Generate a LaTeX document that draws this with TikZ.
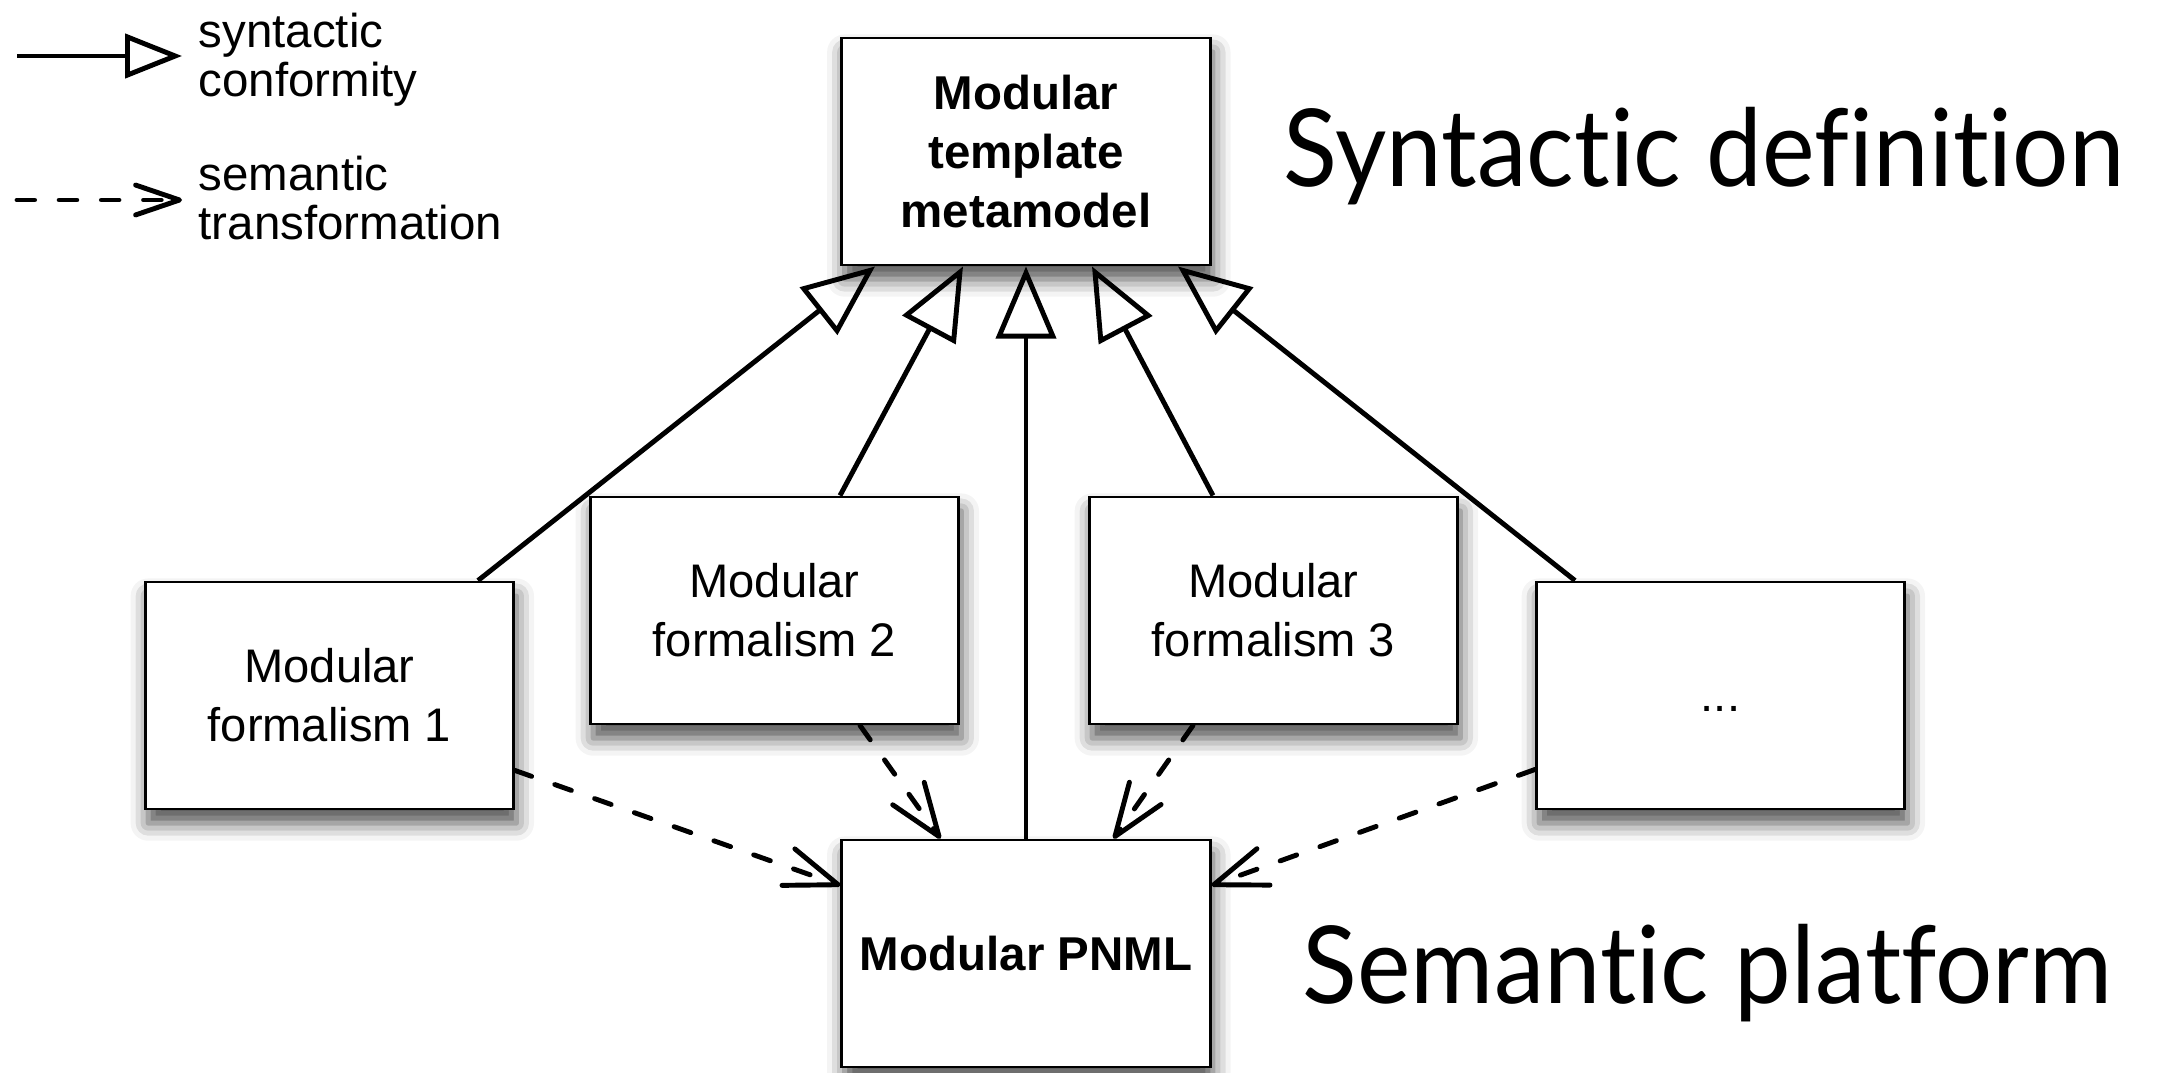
\documentclass[tikz,border=0pt]{standalone}
\usepackage{fontspec}
\setmainfont{Liberation Sans}
\newfontfamily\bigfont[Ligatures={NoCommon}]{Lato}
\usetikzlibrary{arrows.meta,calc,shadows.blur}

\begin{document}
\begin{tikzpicture}[x=0.01cm,y=-0.01cm,
  box/.style={draw=black, line width=0.8pt, fill=white, minimum width=3.68cm, minimum height=2.27cm,
    align=center, inner sep=0pt, font=\fontsize{13.4}{16.7}\selectfont,
    blur shadow={shadow xshift=0.8pt, shadow yshift=-4pt, shadow blur radius=5pt, shadow opacity=70}},
  boldbox/.style={box, font=\fontsize{13.5}{16.7}\selectfont\bfseries},
  conform/.style={line width=1.4pt, -{Triangle[open, length=20.5pt, width=17pt]}},
  transf/.style={line width=1.4pt, line cap=round, dash pattern=on 5pt off 7pt, -{Straight Barb[round, length=15pt, width=11pt]}},
  conformkey/.style={line width=1.4pt, -{Triangle[open, length=16.2pt, width=12.5pt]}},
  transfkey/.style={line width=1.4pt, line cap=round, dash pattern=on 5pt off 7pt, -{Straight Barb[round, length=12.5pt, width=8.5pt]}},
  keytext/.style={anchor=base west, inner sep=0pt, align=left, font=\fontsize{13.5}{14.2}\selectfont},
  bigtext/.style={anchor=base west, inner sep=0pt, font=\bigfont\fontsize{30.6}{36}\selectfont}
]
\useasboundingbox (0,0) rectangle (2166,1073);

% boxes
\node[boldbox] (top)  at (1026,151.5) {Modular\\template\\metamodel};
\node[box]     (f1)   at (329.5,695.5) {Modular\\formalism 1};
\node[box]     (f2)   at (774.5,610.5) {Modular\\formalism 2};
\node[box]     (f3)   at (1273.5,610.5) {Modular\\formalism 3};
\node[box]     (dots) at (1720.5,695.5) {\vphantom{M}...};
\node[boldbox] (pnml) at (1026,953.5) {Modular PNML};

% syntactic conformity
\draw[conform] ($(f1.north east)+(-37,0)$) -- ($(top.south)+(-151,0)$);
\draw[conform] ($(f2.north east)+(-120,0)$) -- ($(top.south)+(-63,0)$);
\draw[conform] (pnml.north) -- (top.south);
\draw[conform] ($(f3.north west)+(125,0)$) -- ($(top.south)+(66,0)$);
\draw[conform] ($(dots.north west)+(40,0)$) -- ($(top.south)+(152,0)$);

% semantic transformation
\draw[transf] ($(f1.south east)+(0,-40)$) -- ($(pnml.north west)+(0,47)$);
\draw[transf] ($(f2.south east)+(-100,0)$) -- ($(pnml.north west)+(100,0)$);
\draw[transf] ($(f3.south west)+(105,0)$) -- ($(pnml.north east)+(-98,0)$);
\draw[transf] ($(dots.south west)+(0,-41)$) -- ($(pnml.north east)+(0,47)$);

% legend
\coordinate (k1a) at (17,56);
\coordinate (k1b) at (182,56);
\coordinate (k2a) at (17,200);
\coordinate (k2b) at (182,200);
\draw[conformkey] (k1a) -- (k1b);
\draw[transfkey] (k2a) -- (k2b);
\node[keytext] (k1t) at (198,97) {syntactic\\conformity};
\node[keytext] (k2t) at (198,240) {semantic\\transformation};

% big labels
\node[bigtext] (syn) at (1283,186) {\scalebox{0.925}[1]{Syntactic definition}};
\node[bigtext] (sem) at (1302,1003) {\scalebox{0.94}[1]{Semantic platform}};
\end{tikzpicture}
\end{document}
